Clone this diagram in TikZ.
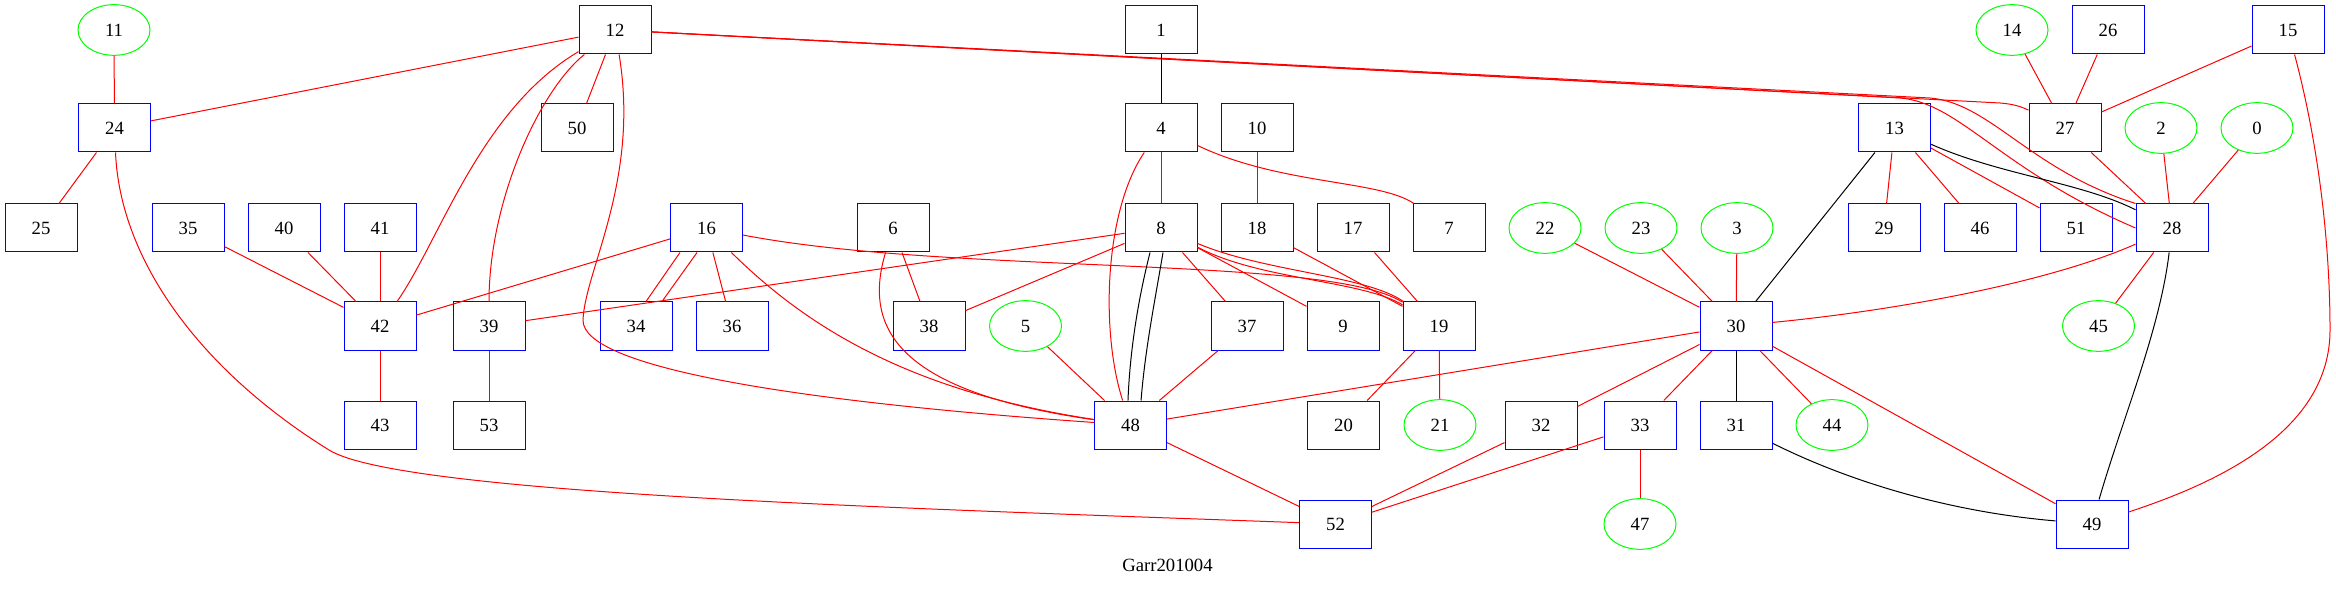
\documentclass[tikz,border=0pt]{standalone}
\usepackage{fontspec}
\setmainfont{Liberation Serif}
\usetikzlibrary{shapes.geometric}
\definecolor{gvblue}{RGB}{0,0,255}
\definecolor{gvgreen}{RGB}{0,255,0}
\definecolor{gvred}{RGB}{255,0,0}
\begin{document}
\begin{tikzpicture}[x=0.75pt,y=-0.75pt,
  box/.style={draw=gvblue,line width=0.75pt,rectangle,minimum width=54pt,minimum height=36pt,inner sep=0pt,font=\fontsize{14}{16}\selectfont},
  oval/.style={draw=gvgreen,line width=0.75pt,ellipse,minimum width=54pt,minimum height=38pt,inner sep=0pt,font=\fontsize{14}{16}\selectfont},
  re/.style={draw=gvred,line width=0.75pt},
  be/.style={draw=black,line width=0.75pt},
  lbl/.style={inner sep=0pt,font=\fontsize{14}{16}\selectfont}]
\useasboundingbox (0,0) rectangle (2336,591);
% row 1
\node[oval] (n11) at (114,30) {11};
\node[box] (n12) at (615,30) {12};
\node[box] (n1) at (1161,30) {1};
\node[oval] (n14) at (2012,30) {14};
\node[box] (n26) at (2108,30) {26};
\node[box] (n15) at (2288,30) {15};
% row 2
\node[box] (n24) at (114.5,128) {24};
\node[box] (n50) at (577,128) {50};
\node[box] (n4) at (1161,128) {4};
\node[box] (n10) at (1257,128) {10};
\node[box] (n13) at (1894.5,128) {13};
\node[box] (n27) at (2065,128) {27};
\node[oval] (n2) at (2161,128) {2};
\node[oval] (n0) at (2257,128) {0};
% row 3
\node[box] (n25) at (41,228) {25};
\node[box] (n35) at (188,228) {35};
\node[box] (n40) at (284,228) {40};
\node[box] (n41) at (380,228) {41};
\node[box] (n16) at (706.5,228) {16};
\node[box] (n6) at (893,228) {6};
\node[box] (n8) at (1161,228) {8};
\node[box] (n18) at (1257,228) {18};
\node[box] (n17) at (1353,228) {17};
\node[box] (n7) at (1449,228) {7};
\node[oval] (n22) at (1545,228) {22};
\node[oval] (n23) at (1641,228) {23};
\node[oval] (n3) at (1737,228) {3};
\node[box] (n29) at (1884,228) {29};
\node[box] (n46) at (1980,228) {46};
\node[box] (n51) at (2076,228) {51};
\node[box] (n28) at (2172,228) {28};
% row 4
\node[box] (n42) at (380,326) {42};
\node[box] (n39) at (489,326) {39};
\node[box] (n34) at (636,326) {34};
\node[box] (n36) at (732,326) {36};
\node[box] (n38) at (929,326) {38};
\node[oval] (n5) at (1025.5,326) {5};
\node[box] (n37) at (1247,326) {37};
\node[box] (n9) at (1343,326) {9};
\node[box] (n19) at (1439,326) {19};
\node[box] (n30) at (1736,326) {30};
\node[oval] (n45) at (2098.5,326) {45};
% row 5
\node[box] (n43) at (380,425) {43};
\node[box] (n53) at (489,425) {53};
\node[box] (n48) at (1130.5,425) {48};
\node[box] (n20) at (1343.5,425) {20};
\node[oval] (n21) at (1440,425) {21};
\node[box] (n32) at (1541,425) {32};
\node[box] (n33) at (1640,425) {33};
\node[box] (n31) at (1736,425) {31};
\node[oval] (n44) at (1832,425) {44};
% row 6
\node[box] (n52) at (1335.5,524) {52};
\node[oval] (n47) at (1640,524) {47};
\node[box] (n49) at (2092,524) {49};
\node[lbl] (title) at (1167.5,565) {Garr201004};
% edges
\path[re] (n11) -- (n24);
\path[re] (n12) -- (n24);
\path[re] (n12) -- (n50);
\path[re] (n12) .. controls (480,110) and (440,240) .. (n42);
\path[re] (n12) .. controls (540,90) and (489,200) .. (n39);
\path[re] (n12) .. controls (640,180) and (585,270) .. (583,320) .. controls (582,368) and (800,402) .. (n48);
\path[re] (n12) -- (2000,103) .. controls (2012,104) and (2020,106) .. (n27);
\path[re] (n12) -- (1900,98) .. controls (1960,103) and (2000,170) .. (n28.west);
\path[re] (n12) -- (1930,98) .. controls (1990,103) and (2030,170) .. (n28.north west);
\path[re] (n24) -- (n25);
\path[re] (n24) .. controls (120,260) and (200,370) .. (329,450) .. controls (400,494) and (900,508) .. (n52);
\path[re] (n35) -- (n42);
\path[re] (n40) -- (n42);
\path[re] (n41) -- (n42);
\path[re] (n16) -- (n42);
\path[re] (n42) -- (n43);
\path[re] (n39) -- (n53);
\path[re] (n8) -- (n39);
\path[re] (n8) -- (n38);
\path[re] ([xshift=-19.9pt]n16.south) -- ([xshift=7.5pt]n34.north);
\path[re] ([xshift=-7.1pt]n16.south) -- ([xshift=19.5pt]n34.north);
\path[re] (n16) -- (n36);
\path[re] (n16) .. controls (800,320) and (900,390) .. (n48);
\path[re] (n16) .. controls (950,275) and (1330,255) .. (n19);
\path[re] (n6) -- (n38);
\path[re] (n6) .. controls (862,330) and (900,392) .. (n48);
\path[be] (n1) -- (n4);
\path[re] (n4) -- (n8);
\path[re] (n4) .. controls (1280,185) and (1380,180) .. (n7);
\path[re] (n4) .. controls (1105,210) and (1100,330) .. (n48);
\path[be] ([xshift=-8.25pt]n8.south) .. controls (1138,300) and (1130,350) .. ([xshift=-1.9pt]n48.north);
\path[be] ([xshift=1.5pt]n8.south) .. controls (1155,300) and (1145,350) .. ([xshift=7.9pt]n48.north);
\path[re] (n8) -- (n37);
\path[re] (n8) -- (n9);
\path[re] (n8) .. controls (1260,280) and (1360,280) .. (n19);
\path[re] (n8) .. controls (1265,272) and (1365,275) .. (n19);
\path[re] (n10) -- (n18);
\path[re] (n18) -- (n19);
\path[re] (n17) -- (n19);
\path[re] (n5) -- (n48);
\path[re] (n37) -- (n48);
\path[re] (n48) -- (n30);
\path[re] (n48) -- (n52);
\path[re] (n19) -- (n20);
\path[re] (n19) -- (n21);
\path[re] (n22) -- (n30);
\path[re] (n23) -- (n30);
\path[re] (n3) -- (n30);
\path[be] (n13) -- (n30);
\path[re] (n30) .. controls (1900,310) and (2050,282) .. (n28);
\path[be] (n30) -- (n31);
\path[re] (n30) -- (n32);
\path[re] (n30) -- (n33);
\path[re] (n30) -- (n44);
\path[re] (n30) -- (n49);
\path[re] (n32) -- (n52);
\path[re] (n33) -- (n52);
\path[re] (n33) -- (n47);
\path[be] (n31) .. controls (1850,482) and (1950,512) .. (n49);
\path[re] (n13) -- (n29);
\path[re] (n13) -- (n46);
\path[re] (n13) -- (n51);
\path[be] (n13) .. controls (2000,175) and (2080,182) .. (n28);
\path[re] (n14) -- (n27);
\path[re] (n26) -- (n27);
\path[re] (n15) -- (n27);
\path[re] (n27) -- (n28);
\path[re] (n2) -- (n28);
\path[re] (n0) -- (n28);
\path[re] (n28) -- (n45);
\path[be] (n28) .. controls (2160,330) and (2122,420) .. (n49);
\path[re] (n15) .. controls (2320,150) and (2330,250) .. (2330,330) .. controls (2330,430) and (2220,482) .. (n49);
\end{tikzpicture}
\end{document}
